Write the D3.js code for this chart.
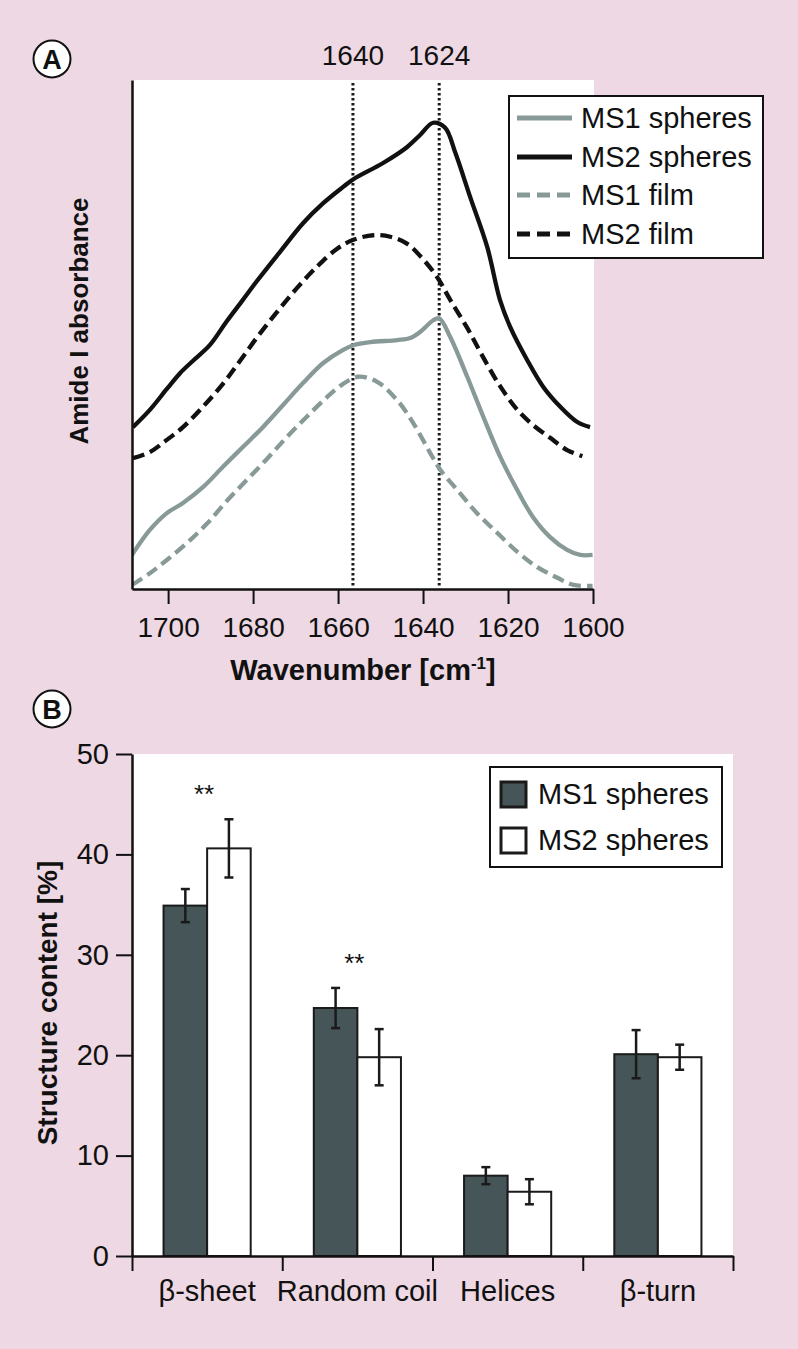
<!DOCTYPE html>
<html><head><meta charset="utf-8">
<script src="https://cdn.jsdelivr.net/npm/d3@7"></script>
<style>
html,body{margin:0;padding:0;background:#edd8e3;}
svg{display:block;}
text{font-family:"Liberation Sans",Arial,Helvetica,sans-serif;fill:#111;}
</style>
</head><body>
<svg id="chart" width="798" height="1349"></svg>
<script>
// ---------- Panel A data (wavenumber, absorbance in arbitrary units) ----------
const spectraTicks = [1700, 1680, 1660, 1640, 1620, 1600];
const markerWavenumbers = [1656.5, 1636.2];
const markerLabels = ["1640", "1624"];
const spectraNames = ["MS1 spheres", "MS2 spheres", "MS1 film", "MS2 film"];

const ms1Spheres = [
  [1708.5,6.7],[1704.3,11.6],[1700.3,14.9],[1696.5,16.9],[1691.8,20.0],[1687.1,24.0],
  [1682.4,27.9],[1677.7,31.8],[1673.0,36.1],[1668.2,40.5],[1663.5,44.4],[1658.8,47.0],
  [1656.4,47.9],[1652.4,48.5],[1646.1,48.9],[1643.0,49.3],[1640.7,50.5],[1637.6,52.8],
  [1636.2,53.2],[1633.6,49.5],[1629.6,41.7],[1625.8,33.8],[1621.8,25.9],[1617.8,19.4],
  [1614.1,14.1],[1610.1,10.2],[1606.1,7.7],[1603.0,6.7],[1600.1,6.7]
];
const ms2Spheres = [
  [1708.3,31.8],[1704.3,35.2],[1700.3,39.3],[1697.2,42.4],[1694.2,44.8],[1690.2,47.9],
  [1686.2,52.6],[1682.4,56.8],[1679.1,60.5],[1673.7,66.2],[1668.2,71.9],[1663.5,75.8],
  [1658.8,79.0],[1656.4,80.5],[1649.4,83.7],[1643.8,86.8],[1640.7,89.2],[1637.6,91.6],
  [1634.8,90.6],[1632.4,85.7],[1628.9,77.0],[1624.9,67.2],[1621.9,56.8],[1619.5,51.5],
  [1615.5,45.0],[1611.7,39.7],[1607.7,35.8],[1603.7,32.8],[1600.7,31.8]
];
const ms1Film = [
  [1708.5,0.8],[1704.3,3.1],[1700.3,5.7],[1695.6,9.0],[1690.9,12.8],[1686.2,17.3],
  [1681.5,21.4],[1676.8,25.5],[1672.1,29.8],[1667.3,33.9],[1662.6,37.7],[1658.8,40.3],
  [1655.3,41.7],[1650.8,40.7],[1646.1,37.1],[1642.3,32.6],[1638.3,26.7],[1635.9,23.4],
  [1631.9,19.4],[1627.3,14.9],[1622.5,11.0],[1617.8,7.3],[1613.1,4.3],[1608.4,2.2],
  [1604.6,0.8],[1600.1,0.6]
];
const ms2Film = [
  [1708.3,25.7],[1704.3,26.9],[1700.3,29.3],[1696.5,31.8],[1691.8,35.8],[1687.1,40.3],
  [1683.1,44.8],[1679.1,49.4],[1674.4,54.4],[1669.7,59.1],[1665.0,63.3],[1660.3,66.8],
  [1656.4,68.6],[1651.7,69.5],[1647.7,69.2],[1643.7,67.8],[1640.0,64.8],[1636.7,61.3],
  [1633.6,56.8],[1629.6,51.3],[1625.9,45.6],[1621.9,39.9],[1617.8,35.2],[1614.1,32.2],
  [1610.1,29.7],[1606.1,27.3],[1602.5,26.1]
];

// ---------- Panel B data ----------
const categories = ["β-sheet", "Random coil", "Helices", "β-turn"];
const barSeries = ["MS1 spheres", "MS2 spheres"];
const ms1Values = [34.9, 24.7, 8.0, 20.1];
const ms1Errors = [1.65, 2.0, 0.85, 2.4];
const ms2Values = [40.6, 19.8, 6.4, 19.8];
const ms2Errors = [2.9, 2.8, 1.25, 1.25];
const significance = ["**", "**", "", ""];
const yTicksB = [0, 10, 20, 30, 40, 50];

// ---------- styling ----------
const GREY = "#889a98", BLACK = "#111", DARK = "#465558";
const svg = d3.select("#chart");

// ================= Panel A =================
const A = {left: 132, right: 594, top: 80, bottom: 589};
const xA = d3.scaleLinear().domain([1708.5, 1600]).range([A.left, 593]);
const yA = d3.scaleLinear().domain([0, 100]).range([A.bottom, A.top]);

svg.append("rect").attr("x", A.left).attr("y", A.top)
  .attr("width", A.right - A.left).attr("height", A.bottom - A.top).attr("fill", "#fff");

svg.append("defs").append("clipPath").attr("id", "clipA")
  .append("rect").attr("x", A.left).attr("y", A.top)
  .attr("width", A.right - A.left).attr("height", A.bottom - A.top);

// marker lines
const gA = svg.append("g");
gA.selectAll(".marker").data(markerWavenumbers).join("line")
  .attr("x1", d => xA(d)).attr("x2", d => xA(d))
  .attr("y1", 83).attr("y2", 588)
  .attr("stroke", "#1a1a1a").attr("stroke-width", 3).attr("stroke-dasharray", "2.6,2.4");
svg.selectAll(".markerLabel").data(markerLabels).join("text")
  .attr("x", (d, i) => xA(markerWavenumbers[i]))
  .attr("y", 65).attr("text-anchor", "middle").attr("font-size", 28).text(d => d);

const lineA = d3.line().x(d => xA(d[0])).y(d => yA(d[1])).curve(d3.curveCatmullRom.alpha(0.5));
const spectra = [
  {data: ms1Spheres, color: GREY, dash: null},
  {data: ms2Spheres, color: BLACK, dash: null},
  {data: ms1Film, color: GREY, dash: "12,6"},
  {data: ms2Film, color: BLACK, dash: "12,6"}
];
const curves = svg.append("g").attr("clip-path", "url(#clipA)");
curves.selectAll("path").data(spectra).join("path")
  .attr("d", d => lineA(d.data)).attr("fill", "none")
  .attr("stroke", d => d.color).attr("stroke-width", 4.3)
  .attr("stroke-linejoin", "round")
  .attr("stroke-dasharray", d => d.dash);

// axes A
const xAxisA = d3.axisBottom(xA).tickValues(spectraTicks).tickSize(15).tickSizeOuter(0).tickPadding(13).tickFormat(d3.format("d"));
const gxA = svg.append("g").attr("transform", `translate(0,${A.bottom})`).call(xAxisA);
gxA.select(".domain").attr("stroke", BLACK).attr("stroke-width", 2.5);
gxA.selectAll(".tick line").attr("stroke", BLACK).attr("stroke-width", 2);
gxA.selectAll(".tick text").attr("font-size", 28).attr("font-family", '"Liberation Sans",Arial,sans-serif').attr("fill", "#111");

const yAxisA = d3.axisLeft(yA).tickValues([]).tickSizeOuter(0);
const gyA = svg.append("g").attr("transform", `translate(${A.left},0)`).call(yAxisA);
gyA.select(".domain").attr("stroke", BLACK).attr("stroke-width", 2.5);

// legend A
const legA = svg.append("g");
legA.append("rect").attr("x", 509).attr("y", 96).attr("width", 254).attr("height", 162)
  .attr("fill", "#fff").attr("stroke", BLACK).attr("stroke-width", 2);
const legRowsA = [118, 157, 195, 234];
spectraNames.forEach((name, i) => {
  legA.append("line").attr("x1", 517).attr("x2", 572).attr("y1", legRowsA[i]).attr("y2", legRowsA[i])
    .attr("stroke", spectra[i].color).attr("stroke-width", 4.8).attr("stroke-dasharray", spectra[i].dash ? "13,7" : null);
  legA.append("text").attr("x", 581).attr("y", legRowsA[i] + 10).attr("font-size", 29).text(name);
});

// axis titles A
svg.append("text").attr("transform", "translate(88,321) rotate(-90)")
  .attr("text-anchor", "middle").attr("font-size", 26).attr("font-weight", "bold").text("Amide I absorbance");
const wt = svg.append("text").attr("x", 363).attr("y", 680).attr("text-anchor", "middle")
  .attr("font-size", 29).attr("font-weight", "bold");
wt.append("tspan").text("Wavenumber [cm");
wt.append("tspan").attr("font-size", 17).attr("dy", -11).text("-1");
wt.append("tspan").attr("dy", 11).text("]");

// panel label circles
function panelLabel(cx, cy, letter) {
  svg.append("circle").attr("cx", cx).attr("cy", cy).attr("r", 18.5)
    .attr("fill", "#fff").attr("stroke", BLACK).attr("stroke-width", 2);
  svg.append("text").attr("x", cx).attr("y", cy + 9.5).attr("text-anchor", "middle")
    .attr("font-size", 27).attr("font-weight", "bold").text(letter);
}
panelLabel(52, 59, "A");
panelLabel(52, 709, "B");

// ================= Panel B =================
const B = {left: 132, right: 733, top: 754, bottom: 1256};
svg.append("rect").attr("x", B.left).attr("y", B.top)
  .attr("width", B.right - B.left).attr("height", B.bottom - B.top).attr("fill", "#fff");

const x0 = d3.scaleBand().domain(categories).range([B.left, B.right]).paddingInner(0.42).paddingOuter(0.21);
const x1 = d3.scaleBand().domain(barSeries).range([0, x0.bandwidth()]);
const yB = d3.scaleLinear().domain([0, 50]).range([B.bottom, B.top]);

const barData = [];
categories.forEach((c, i) => {
  barData.push({cat: c, s: barSeries[0], v: ms1Values[i], e: ms1Errors[i], fill: DARK});
  barData.push({cat: c, s: barSeries[1], v: ms2Values[i], e: ms2Errors[i], fill: "#fff"});
});

const gB = svg.append("g");
gB.selectAll("rect.bar").data(barData).join("rect").attr("class", "bar")
  .attr("x", d => x0(d.cat) + x1(d.s)).attr("width", x1.bandwidth())
  .attr("y", d => yB(d.v)).attr("height", d => yB(0) - yB(d.v))
  .attr("fill", d => d.fill).attr("stroke", "#1a1a1a").attr("stroke-width", 2);

const eb = gB.selectAll("g.err").data(barData).join("g").attr("class", "err")
  .attr("transform", d => `translate(${x0(d.cat) + x1(d.s) + x1.bandwidth() / 2},0)`);
eb.append("line").attr("y1", d => yB(d.v + d.e)).attr("y2", d => yB(d.v - d.e))
  .attr("stroke", "#1a1a1a").attr("stroke-width", 2.5);
eb.append("line").attr("x1", -4.5).attr("x2", 4.5).attr("y1", d => yB(d.v + d.e)).attr("y2", d => yB(d.v + d.e))
  .attr("stroke", "#1a1a1a").attr("stroke-width", 2.5);
eb.append("line").attr("x1", -4.5).attr("x2", 4.5).attr("y1", d => yB(d.v - d.e)).attr("y2", d => yB(d.v - d.e))
  .attr("stroke", "#1a1a1a").attr("stroke-width", 2.5);

// significance marks
gB.selectAll("text.sig").data(categories).join("text").attr("class", "sig")
  .attr("x", d => x0(d) + x0.bandwidth() / 2 - 3)
  .attr("y", (d, i) => yB(Math.max(ms1Values[i] + ms1Errors[i], ms2Values[i] + ms2Errors[i])) - 16)
  .attr("text-anchor", "middle").attr("font-size", 26)
  .text((d, i) => significance[i]);

// axes B
const yAxisB = d3.axisLeft(yB).tickValues(yTicksB).tickSize(16).tickSizeOuter(0).tickPadding(7);
const gyB = svg.append("g").attr("transform", `translate(${B.left},0)`).call(yAxisB);
gyB.select(".domain").attr("stroke", BLACK).attr("stroke-width", 2.5);
gyB.selectAll(".tick line").attr("stroke", BLACK).attr("stroke-width", 2);
gyB.selectAll(".tick text").attr("font-size", 29).attr("font-family", '"Liberation Sans",Arial,sans-serif').attr("fill", "#111");

const boundary = d3.scaleLinear().domain([0, categories.length]).range([B.left, B.right]);
const gxB = svg.append("g").attr("transform", `translate(0,${B.bottom})`)
  .call(d3.axisBottom(boundary).tickValues(d3.range(categories.length + 1)).tickSize(15).tickSizeOuter(0).tickFormat(""));
gxB.select(".domain").attr("stroke", BLACK).attr("stroke-width", 2.5);
gxB.selectAll(".tick line").attr("stroke", BLACK).attr("stroke-width", 2);

const gxBLabels = svg.append("g").attr("transform", `translate(0,${B.bottom})`)
  .call(d3.axisBottom(x0).tickSize(0).tickPadding(24));
gxBLabels.select(".domain").remove();
gxBLabels.selectAll(".tick text").attr("font-size", 29).attr("font-family", '"Liberation Sans",Arial,sans-serif').attr("fill", "#111");

// legend B
const legB = svg.append("g");
legB.append("rect").attr("x", 490).attr("y", 767).attr("width", 232).attr("height", 100)
  .attr("fill", "#fff").attr("stroke", BLACK).attr("stroke-width", 2);
const legRowsB = [794, 840];
barSeries.forEach((name, i) => {
  legB.append("rect").attr("x", 501).attr("y", legRowsB[i] - 12).attr("width", 25).attr("height", 25)
    .attr("fill", i === 0 ? DARK : "#fff").attr("stroke", "#1a1a1a").attr("stroke-width", 3);
  legB.append("text").attr("x", 538).attr("y", legRowsB[i] + 10).attr("font-size", 29).text(name);
});

svg.append("text").attr("transform", "translate(57,1003) rotate(-90)")
  .attr("text-anchor", "middle").attr("font-size", 28).attr("font-weight", "bold").text("Structure content [%]");
</script>
</body></html>
